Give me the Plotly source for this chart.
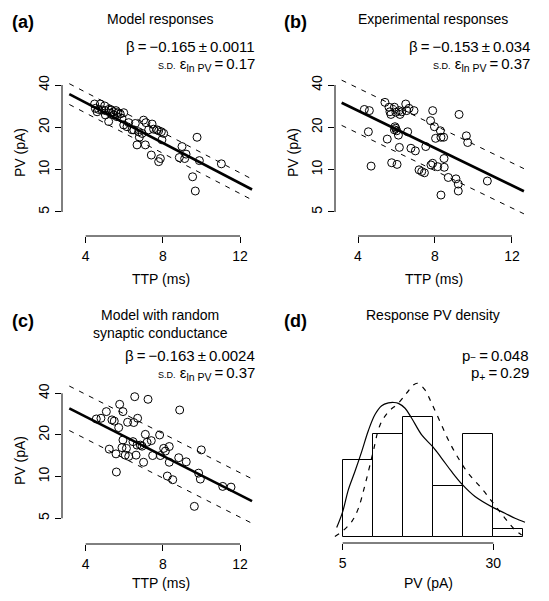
import numpy as np
import plotly.graph_objects as go

W, H = 549, 601
FONT = "Liberation Sans, Arial, Helvetica, sans-serif"

# ---------------- data ----------------
# (a) Model responses
ttp_a = [4.46, 4.76, 4.98, 4.50, 4.67, 4.84, 5.02, 5.19, 5.33, 5.45,
         5.57, 5.67, 5.79, 5.97, 5.02, 5.19, 5.45, 5.62, 5.88, 5.97,
         6.14, 6.40, 6.57, 6.49, 6.74, 6.78, 7.00, 7.12, 7.26, 7.44,
         7.52, 7.69, 7.78, 7.92, 8.04, 7.95, 6.66, 7.09, 7.40, 7.87,
         7.78, 8.99, 8.85, 9.20, 9.13, 9.77, 9.89, 11.03, 9.54, 9.68,
         4.59, 5.28, 6.23, 6.92]
pv_a = [29.3, 29.3, 28.4, 27.3, 26.8, 26.6, 26.3, 26.8, 26.6, 25.8,
        26.3, 25.4, 24.9, 25.4, 24.5, 22.0, 24.5, 23.8, 23.2, 20.8,
        20.2, 19.2, 21.3, 19.2, 18.6, 17.0, 22.5, 21.6, 19.2, 21.1,
        19.4, 19.2, 18.9, 18.6, 18.1, 16.3, 15.0, 15.0, 12.7, 12.0,
        11.4, 14.6, 12.2, 12.9, 12.0, 17.0, 11.6, 11.0, 8.9, 7.05,
        25.8, 25.2, 21.6, 18.1]
beta_a, icpt_a, sd_a = -0.165, 4.06, 0.17

# (b) Experimental responses
ttp_b = [4.33, 4.59, 5.40, 5.61, 5.66, 5.71, 5.89, 5.97, 6.13, 6.18,
         6.27, 6.48, 6.53, 6.65, 6.91, 7.88, 9.25, 7.77, 7.97, 8.28,
         8.03, 8.31, 8.45, 5.96, 6.01, 5.89, 6.10, 6.58, 4.54, 5.52,
         6.15, 6.75, 6.98, 7.52, 4.68, 5.75, 6.03, 7.17, 7.31, 7.45,
         7.79, 7.88, 8.14, 8.48, 8.47, 8.69, 9.09, 9.21, 9.21, 8.31,
         9.63, 9.70, 10.72, 5.92]
pv_b = [26.8, 26.3, 30.1, 27.8, 25.8, 24.7, 27.8, 25.6, 26.3, 24.7,
        25.8, 29.3, 26.3, 27.3, 26.3, 26.3, 24.7, 22.3, 20.2, 18.9,
        16.7, 17.0, 17.0, 19.7, 18.9, 19.2, 17.6, 18.6, 18.6, 16.5,
        14.4, 14.2, 13.6, 14.6, 10.6, 11.2, 10.9, 9.97, 9.7, 9.5,
        10.8, 11.1, 10.5, 10.4, 12.0, 8.8, 8.6, 7.9, 7.05, 6.6,
        17.4, 15.6, 8.3, 20.2]
beta_b, icpt_b, sd_b = -0.153, 3.88, 0.37

# (c) Model with random synaptic conductance
ttp_c = [6.54, 7.23, 8.87, 5.76, 5.93, 5.07, 4.55, 4.79, 5.36, 5.48,
         6.17, 6.49, 6.69, 5.71, 7.09, 7.83, 5.93, 6.45, 6.66, 6.83,
         6.92, 7.18, 7.40, 5.88, 6.11, 5.22, 5.57, 6.05, 6.23, 6.61,
         7.47, 7.87, 8.04, 8.13, 8.33, 8.33, 7.00, 8.82, 9.21, 9.99,
         5.59, 8.23, 8.51, 9.85, 9.94, 11.10, 11.53, 9.63]
pv_c = [37.8, 36.2, 30.3, 33.3, 29.5, 29.5, 26.1, 26.4, 25.7, 25.2,
        24.7, 24.6, 26.4, 22.6, 20.2, 20.0, 18.4, 17.9, 16.9, 16.9,
        16.6, 17.7, 18.2, 16.2, 16.0, 15.8, 14.6, 14.3, 14.0, 14.3,
        14.2, 14.2, 16.0, 15.3, 16.5, 12.7, 12.7, 13.7, 12.8, 15.6,
        10.8, 10.1, 9.5, 10.6, 9.6, 8.5, 8.4, 6.1]
beta_c, icpt_c, sd_c = -0.163, 3.953, 0.37

fit_ttp_range = [3.15, 12.62]

# (d) Response PV density
hist_edges = [5, 10, 15, 20, 25, 30, 35]
hist_counts = [9, 12, 14, 6, 12, 1]
exp_pv = [4.0, 5.0, 5.93, 7.04, 8.15, 9.25, 10.36, 11.47, 12.58, 13.5, 14.24,
          15.35, 16.45, 18.11, 19.94, 21.43, 23.09, 24.91, 26.96, 30.0, 31.94,
          33.6, 35.26]
exp_dens = [0.0042, 0.0111, 0.0205, 0.0285, 0.0370, 0.0460, 0.0530, 0.0568,
            0.0580, 0.0582, 0.0578, 0.0557, 0.0514, 0.0442, 0.0391, 0.0341,
            0.0283, 0.0226, 0.0176, 0.0128, 0.0104, 0.0082, 0.0065]
model_pv = [3.7, 5.0, 6.5, 7.6, 8.7, 10.0, 11.2, 12.6, 14.2, 15.6, 16.7, 17.4,
            18.66, 19.77, 21.16, 22.54, 24.2, 25.86, 28.07, 30.0, 31.95, 33.6,
            34.7]
model_dens = [0.0003, 0.0027, 0.0068, 0.0125, 0.0226, 0.0363, 0.0485, 0.0542,
              0.0578, 0.0622, 0.0657, 0.0665, 0.0636, 0.0578, 0.0499, 0.0420,
              0.0341, 0.0276, 0.0211, 0.0147, 0.0082, 0.0032, 0.0010]

ttp_ticks = [4, 8, 12]
pv_ticks = [5, 10, 20, 40]
hist_ticks = [5, 30]


# ---------------- helpers ----------------
def fx(px):
    return px / W


def fy(py):
    return 1 - py / H


fig = go.Figure()
DASH = "5px,6px"


def scatter_panel(xa, ya, ttp, pv, beta, icpt, sd):
    fig.add_trace(go.Scatter(
        x=ttp, y=pv, mode="markers", xaxis=xa, yaxis=ya, showlegend=False,
        hoverinfo="skip",
        marker=dict(symbol="circle-open", size=8, color="black",
                    line=dict(width=1, color="black"))))
    xs = np.array(fit_ttp_range)
    for off, dash, w in [(0, "solid", 2.6), (sd, DASH, 1), (-sd, DASH, 1)]:
        fig.add_trace(go.Scatter(
            x=xs, y=np.exp(icpt + beta * xs + off), mode="lines",
            xaxis=xa, yaxis=ya, showlegend=False, hoverinfo="skip",
            line=dict(color="black", width=w, dash=dash)))


scatter_panel("x", "y", ttp_a, pv_a, beta_a, icpt_a, sd_a)
scatter_panel("x2", "y2", ttp_b, pv_b, beta_b, icpt_b, sd_b)
scatter_panel("x3", "y3", ttp_c, pv_c, beta_c, icpt_c, sd_c)

total = sum(hist_counts)
centers = [(hist_edges[i] + hist_edges[i + 1]) / 2 for i in range(len(hist_counts))]
widths = [hist_edges[i + 1] - hist_edges[i] for i in range(len(hist_counts))]
dens = [c / (total * w) for c, w in zip(hist_counts, widths)]
fig.add_trace(go.Bar(
    x=centers, y=dens, width=widths, xaxis="x4", yaxis="y4", showlegend=False,
    marker=dict(color="white", line=dict(color="black", width=1)),
    hoverinfo="skip"))
fig.add_trace(go.Scatter(
    x=exp_pv, y=exp_dens, mode="lines", line=dict(color="black", width=1.2, shape="spline"),
    xaxis="x4", yaxis="y4", showlegend=False, hoverinfo="skip"))
fig.add_trace(go.Scatter(
    x=model_pv, y=model_dens, mode="lines",
    line=dict(color="black", width=1.2, dash=DASH, shape="spline"),
    xaxis="x4", yaxis="y4", showlegend=False, hoverinfo="skip"))

tickfont = dict(family=FONT, size=14, color="black")


def xax(dom_px, rng, ticks, anchor):
    return dict(domain=[fx(dom_px[0]), fx(dom_px[1])], range=rng, anchor=anchor,
                showline=False, showgrid=False, zeroline=False, ticks="outside",
                ticklen=6, tickwidth=1, tickcolor="black", tickmode="array",
                tickvals=ticks, tickfont=tickfont, ticklabelstandoff=1,
                automargin=False, fixedrange=True)


def yax_log(dom_px, rng, anchor):
    return dict(domain=[fy(dom_px[1]), fy(dom_px[0])], range=rng, type="log",
                anchor=anchor, showline=False, showgrid=False, zeroline=False,
                ticks="outside", ticklen=6, tickwidth=1, tickcolor="black",
                tickmode="array", tickvals=pv_ticks,
                ticktext=[str(v) for v in pv_ticks], tickangle=-90,
                tickfont=tickfont, ticklabelstandoff=0, automargin=False,
                fixedrange=True)


layout = dict(
    width=W, height=H, margin=dict(l=0, r=0, t=0, b=0),
    paper_bgcolor="white", plot_bgcolor="white", showlegend=False,
    font=dict(family=FONT, color="black"),
    bargap=0,
    xaxis=xax((62, 259), [2.772, 12.98], ttp_ticks, "y"),
    yaxis=yax_log((70, 236), [0.52823, 1.70873], "x"),
    xaxis2=xax((335, 532), [2.805, 13.04], ttp_ticks, "y2"),
    yaxis2=yax_log((70, 236), [0.52823, 1.70873], "x2"),
    xaxis3=xax((62, 259), [2.772, 12.98], ttp_ticks, "y3"),
    yaxis3=yax_log((378, 544), [0.51338, 1.71259], "x3"),
    xaxis4=xax((330, 530), [2.89, 36.09], hist_ticks, "y4"),
    yaxis4=dict(domain=[fy(543), fy(377)], range=[-0.00246, 0.0692],
                anchor="x4", visible=False, fixedrange=True),
)

shapes = []
for xr, yr in [("x", "y"), ("x2", "y2"), ("x3", "y3")]:
    shapes.append(dict(type="line", xref=xr, yref=yr + " domain", x0=4, x1=12,
                       y0=0, y1=0, line=dict(color="black", width=1)))
    shapes.append(dict(type="line", xref=xr + " domain", yref=yr, x0=0, x1=0,
                       y0=5, y1=40, line=dict(color="black", width=1)))
shapes.append(dict(type="line", xref="x4", yref="y4 domain", x0=5, x1=30,
                   y0=0, y1=0, line=dict(color="black", width=1)))
layout["shapes"] = shapes

ann = []


def text(px, py, s, size=14, xanchor="center", angle=0):
    ann.append(dict(x=fx(px), y=fy(py), xref="paper", yref="paper", text=s,
                    showarrow=False, xanchor=xanchor, yanchor="middle",
                    textangle=angle,
                    font=dict(family=FONT, size=size, color="black")))


TS = "\u2009"
SD = '<span style="font-size:9px">S.D.</span> ε<sub>ln PV</sub>' + TS + "=" + TS + "{}"


def beta_txt(b, e):
    return "β" + TS + "=" + TS + "−" + b + TS + "±" + TS + e


# panel labels
text(23, 22, "<b>(a)</b>", 18)
text(295, 22, "<b>(b)</b>", 18)
text(23, 321, "<b>(c)</b>", 18)
text(295, 321, "<b>(d)</b>", 18)
# titles
text(160, 19, "Model responses", 14)
text(433, 19, "Experimental responses", 14)
text(160, 315, "Model with random", 14)
text(160, 333, "synaptic conductance", 14)
text(433, 315, "Response PV density", 14)
# stats
text(257, 46, beta_txt("0.165", "0.0011"), 15, "right")
text(257, 64, SD.format("0.17"), 15, "right")
text(532, 46, beta_txt("0.153", "0.034"), 15, "right")
text(532, 64, SD.format("0.37"), 15, "right")
text(257, 355, beta_txt("0.163", "0.0024"), 15, "right")
text(257, 373, SD.format("0.37"), 15, "right")
text(531, 355, 'p<span style="font-size:10px">−</span>' + TS + "=" + TS + "0.048", 15, "right")
text(531, 373, 'p<sub>+</sub>' + TS + "=" + TS + "0.29", 15, "right")
# axis titles
text(20, 153, "PV (pA)", 14, angle=-90)
text(293, 153, "PV (pA)", 14, angle=-90)
text(20, 461, "PV (pA)", 14, angle=-90)
text(161, 279, "TTP (ms)", 14)
text(434, 279, "TTP (ms)", 14)
text(161, 583, "TTP (ms)", 14)
text(428, 583, "PV (pA)", 14)
layout["annotations"] = ann

fig.update_layout(**layout)
fig.write_html(
    "out.html",
    config={"displayModeBar": False},
    post_script="document.body.style.margin='0';document.body.style.padding='0';"
                "document.body.style.overflow='hidden';",
)
